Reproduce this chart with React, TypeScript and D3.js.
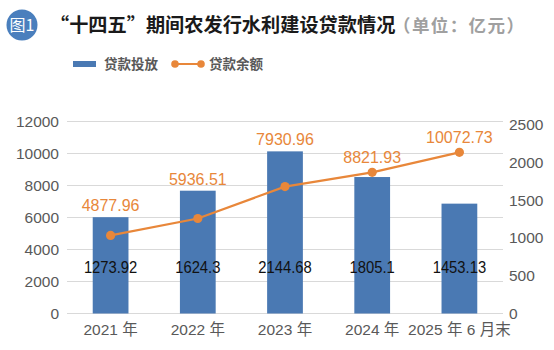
import React from 'react';
import * as d3 from 'd3';

const categories = ['2021 年', '2022 年', '2023 年', '2024 年', '2025 年 6 月末'];
const loanIssued = [1273.92, 1624.3, 2144.68, 1805.1, 1453.13];
const loanBalance = [4877.96, 5936.51, 7930.96, 8821.93, 10072.73];
const leftTicks = [0, 2000, 4000, 6000, 8000, 10000, 12000];
const rightTicks = [0, 500, 1000, 1500, 2000, 2500];

const W = 554;
const H = 350;
const plot = { left: 67, right: 503, top: 121.5, bottom: 313.5 };

const BLUE = '#4a79b3';
const ORANGE = '#e8873a';
const GRID = '#d9d9d9';
const AXIS_TEXT = '#595959';
const NUM_FONT = '"Liberation Sans", Arial, sans-serif';
const CJK_FONT = '"Noto Sans CJK SC", "Noto Sans", sans-serif';

function App() {
    const x = d3.scaleBand()
        .domain(categories)
        .range([plot.left, plot.right])
        .paddingInner(0.59)
        .paddingOuter(0.295);

    const yLeft = d3.scaleLinear()
        .domain([0, 12000])
        .range([plot.bottom, plot.top]);

    // right axis runs a bit shorter than the left one
    const yRight = d3.scaleLinear()
        .domain([0, 2500])
        .range([plot.bottom, 124.5]);

    const cx = (c: string) => (x(c) as number) + x.bandwidth() / 2;

    const line = d3.line<number>()
        .x((d, i) => cx(categories[i]))
        .y(d => yLeft(d));

    // balance labels sit just above whichever is higher: the point or the bar
    const balanceLabelY = (i: number) =>
        Math.min(yLeft(loanBalance[i]) - 9, yRight(loanIssued[i]) - 6);

    return (
        <svg width={W} height={H} style={{ position: 'absolute', left: 0, top: 0, background: '#fff' }}>
            {/* title */}
            <circle cx={22} cy={25} r={15.5} fill="#4a7fbd" />
            <text x={22} y={31} textAnchor="middle" fill="#fff" fontSize={16} fontFamily={CJK_FONT}>图1</text>
            <text x={50} y={32} fontSize={19.2} fontWeight="bold" fill="#1a1a1a" fontFamily={CJK_FONT}>
                “十四五”期间农发行水利建设贷款情况
            </text>
            <text x={393} y={32} fontSize={17.5} fontWeight="bold" fill="#a0a0a0" fontFamily={CJK_FONT} letterSpacing={1.4}>
                （单位：亿元）
            </text>

            {/* legend */}
            <rect x={73} y={61} width={23} height={6} fill={BLUE} />
            <text x={104} y={69} fontSize={13.5} fill={AXIS_TEXT} fontWeight="bold" fontFamily={CJK_FONT}>贷款投放</text>
            <line x1={175} x2={201} y1={64} y2={64} stroke={ORANGE} strokeWidth={2} />
            <circle cx={175} cy={64} r={3.8} fill={ORANGE} />
            <circle cx={201} cy={64} r={3.8} fill={ORANGE} />
            <text x={209} y={69} fontSize={13.5} fill={AXIS_TEXT} fontWeight="bold" fontFamily={CJK_FONT}>贷款余额</text>

            {/* grid */}
            {leftTicks.map(t => (
                <line key={t} x1={plot.left} x2={plot.right} y1={yLeft(t)} y2={yLeft(t)} stroke={GRID} strokeWidth={1.2} />
            ))}

            {/* left axis labels */}
            {leftTicks.map(t => (
                <text key={t} x={59} y={yLeft(t)} dy="0.35em" textAnchor="end" fontSize={15.5} fill={AXIS_TEXT} fontFamily={NUM_FONT}>{t}</text>
            ))}

            {/* right axis labels */}
            {rightTicks.map(t => (
                <text key={t} x={509} y={yRight(t)} dy="0.35em" fontSize={15.5} fill={AXIS_TEXT} fontFamily={NUM_FONT}>{t}</text>
            ))}

            {/* bars */}
            {loanIssued.map((v, i) => (
                <rect key={i} x={x(categories[i])} y={yRight(v)} width={x.bandwidth()} height={yRight(0) - yRight(v)} fill={BLUE} />
            ))}

            {/* bar labels, a little condensed like the original */}
            {loanIssued.map((v, i) => (
                <text key={i} transform={`translate(${cx(categories[i])},${plot.bottom - 40.5}) scale(0.87,1)`}
                    textAnchor="middle" fontSize={17} fill="#111" fontFamily={NUM_FONT}>{v}</text>
            ))}

            {/* line */}
            <path d={line(loanBalance) || ''} fill="none" stroke={ORANGE} strokeWidth={2.2} />
            {loanBalance.map((v, i) => (
                <circle key={i} cx={cx(categories[i])} cy={yLeft(v)} r={4.6} fill={ORANGE} />
            ))}
            {loanBalance.map((v, i) => (
                <text key={i} x={cx(categories[i])} y={balanceLabelY(i)} textAnchor="middle" fontSize={16} fill={ORANGE} fontFamily={NUM_FONT}>{v.toFixed(2)}</text>
            ))}

            {/* x labels */}
            {categories.map(c => (
                <text key={c} x={cx(c)} y={335} textAnchor="middle" fontSize={15.5} fill={AXIS_TEXT} fontFamily={NUM_FONT}>
                    {c.split(/([^\d\s]+)/).map((part, j) => (
                        /\d/.test(part) || !part.trim()
                            ? <tspan key={j}>{part}</tspan>
                            : <tspan key={j} fontFamily={CJK_FONT}>{part}</tspan>
                    ))}
                </text>
            ))}
        </svg>
    );
}

export default App;
